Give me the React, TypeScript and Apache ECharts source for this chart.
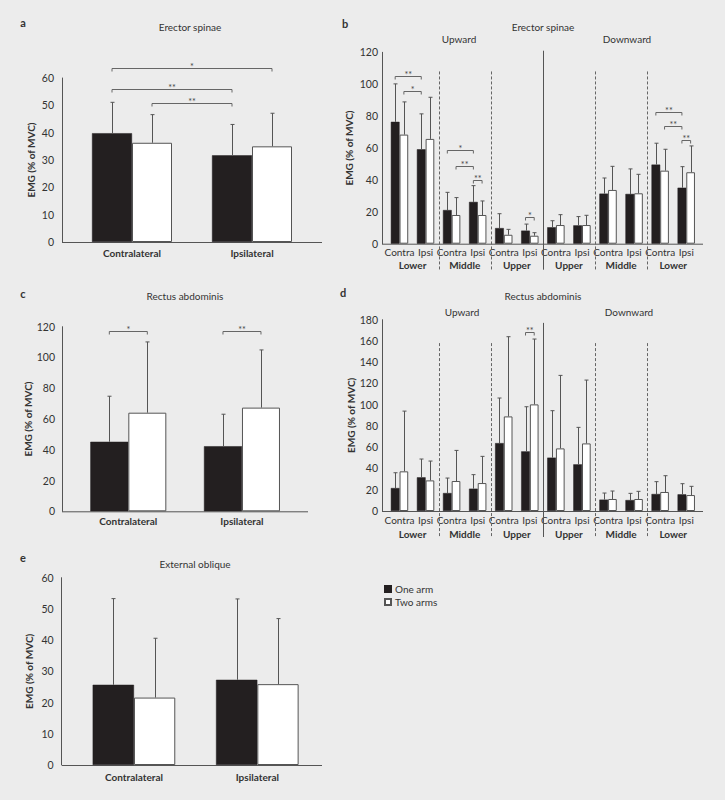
import React, { useEffect, useRef } from 'react';
import * as echarts from 'echarts';

const FONT = 'Lato, "Open Sans", sans-serif';
const TXT = '#333';
const AX = '#555';

// ---- categories ----
const sideCats = ['Contralateral', 'Ipsilateral'];
const sideShort = ['Contra', 'Ipsi', 'Contra', 'Ipsi', 'Contra', 'Ipsi', 'Contra', 'Ipsi', 'Contra', 'Ipsi', 'Contra', 'Ipsi'];
const levelCats = ['Lower', 'Middle', 'Upper', 'Upper', 'Middle', 'Lower'];
const seriesNames = ['One arm', 'Two arms'];

// ---- panel a: Erector spinae ----
const aOneArm = [39.8, 31.7];
const aTwoArms = [36.3, 35.0];
const aOneArmErr = [51.1, 43.0];
const aTwoArmsErr = [46.6, 47.1];
// [fromCat, fromSide, toCat, toSide, y, label]
const aBrackets: [number, number, number, number, number, string][] = [
  [0, -1, 1, 1, 63.5, '*'],
  [0, -1, 1, -1, 56.1, '**'],
  [0, 1, 1, -1, 50.7, '**'],
];

// ---- panel b: Erector spinae, upward / downward ----
const bOneArm = [76.4, 59.2, 21.1, 26.2, 9.8, 8.2, 10.3, 11.5, 31.4, 31.2, 49.6, 35.1];
const bTwoArms = [68.4, 65.7, 18.0, 18.0, 5.6, 5.0, 11.7, 11.7, 33.7, 31.6, 45.8, 44.8];
const bOneArmErr = [100.2, 81.4, 32.2, 36.4, 18.8, 12.3, 14.4, 17.0, 41.2, 46.9, 63.0, 48.3];
const bTwoArmsErr = [88.9, 91.8, 28.9, 26.8, 9.0, 6.9, 18.2, 17.8, 48.5, 43.5, 59.2, 61.3];
const bBrackets: [number, number, number, number, number, string][] = [
  [0, -1, 1, -1, 105, '**'],
  [0, 1, 1, -1, 95.7, '*'],
  [2, -1, 3, -1, 58.7, '*'],
  [2, 1, 3, -1, 48.7, '**'],
  [3, -1, 3, 1, 39.9, '**'],
  [5, -1, 5, 1, 16.5, '*'],
  [10, -1, 11, -1, 82.8, '**'],
  [10, 1, 11, -1, 73.8, '**'],
  [11, -1, 11, 1, 64.8, '**'],
];
// [after category, top value, solid]
const bSeparators: [number, number, number][] = [[1, 108, 0], [3, 108, 0], [5, 121, 1], [7, 108, 0], [9, 108, 0]];

// ---- panel c: Rectus abdominis ----
const cOneArm = [45.2, 42.3];
const cTwoArms = [64.1, 67.4];
const cOneArmErr = [74.8, 63.1];
const cTwoArmsErr = [110.1, 104.9];
const cBrackets: [number, number, number, number, number, string][] = [
  [0, -1, 0, 1, 117.4, '*'],
  [1, -1, 1, 1, 117.4, '**'],
];

// ---- panel d: Rectus abdominis, upward / downward ----
const dOneArm = [21.6, 31.7, 16.9, 21.0, 63.9, 56.1, 50.2, 43.9, 10.7, 10.3, 16.0, 15.7];
const dTwoArms = [37.3, 28.8, 28.2, 26.3, 89.0, 100.3, 58.9, 63.6, 11.3, 11.3, 17.9, 15.0];
const dOneArmErr = [36.0, 48.9, 31.0, 34.2, 106.3, 98.1, 94.4, 78.7, 16.9, 16.6, 27.6, 25.7];
const dTwoArmsErr = [94.0, 47.0, 57.0, 51.4, 164.0, 161.8, 127.6, 123.2, 18.8, 18.5, 33.2, 23.2];
const dBrackets: [number, number, number, number, number, string][] = [
  [5, -1, 5, 1, 168, '**'],
];
const dSeparators: [number, number, number][] = [[1, 158, 0], [3, 158, 0], [5, 177, 1], [7, 158, 0], [9, 158, 0]];

// ---- panel e: External oblique ----
const eOneArm = [25.7, 27.3];
const eTwoArms = [21.6, 25.9];
const eOneArmErr = [53.3, 53.2];
const eTwoArmsErr = [40.6, 46.9];

function barPair(xi: number, yi: number, one: number[], two: number[], bw: number) {
  return [
    {
      name: seriesNames[0], type: 'bar', xAxisIndex: xi, yAxisIndex: yi, data: one,
      barWidth: bw, barGap: '0%', silent: true,
      itemStyle: { color: '#231f20', borderColor: '#231f20', borderWidth: 0.5 },
    },
    {
      name: seriesNames[1], type: 'bar', xAxisIndex: xi, yAxisIndex: yi, data: two,
      barWidth: bw, barGap: '0%', silent: true,
      itemStyle: { color: '#ffffff', borderColor: '#555', borderWidth: 1 },
    },
  ];
}

function errSeries(xi: number, yi: number, means: number[], tops: number[], off: number) {
  return {
    type: 'custom', xAxisIndex: xi, yAxisIndex: yi, silent: true, z: 4, clip: false,
    data: means.map((m, i) => [i, m, tops[i]]),
    encode: { x: 0, y: [1, 2] },
    renderItem: (_p: any, api: any) => {
      const i = api.value(0), m = api.value(1), t = api.value(2);
      const b = api.coord([i, m]);
      const tp = api.coord([i, t]);
      const x = Math.round(b[0] + off) + 0.5;
      return {
        type: 'group',
        children: [
          { type: 'line', shape: { x1: x, y1: b[1], x2: x, y2: tp[1] }, style: { stroke: AX, lineWidth: 1 } },
          { type: 'line', shape: { x1: x - 2, y1: tp[1], x2: x + 2, y2: tp[1] }, style: { stroke: AX, lineWidth: 1 } },
        ],
      };
    },
  };
}

function bracketSeries(xi: number, yi: number, br: [number, number, number, number, number, string][], bw: number, fs: number) {
  return {
    type: 'custom', xAxisIndex: xi, yAxisIndex: yi, silent: true, z: 5, clip: false,
    data: br.map((b) => [b[0], b[1], b[2], b[3], b[4]]),
    encode: { x: 0, y: 4 },
    renderItem: (p: any, api: any) => {
      const f = api.value(0), fsd = api.value(1), t = api.value(2), tsd = api.value(3), y = api.value(4);
      const p1 = api.coord([f, y]);
      const p2 = api.coord([t, y]);
      const x1 = p1[0] + (fsd * bw) / 2;
      const x2 = p2[0] + (tsd * bw) / 2;
      const yy = Math.round(p1[1]) + 0.5;
      const st = { stroke: '#666', lineWidth: 1 };
      return {
        type: 'group',
        children: [
          { type: 'line', shape: { x1, y1: yy, x2, y2: yy }, style: st },
          { type: 'line', shape: { x1, y1: yy, x2: x1, y2: yy + 3 }, style: st },
          { type: 'line', shape: { x1: x2, y1: yy, x2, y2: yy + 3 }, style: st },
          {
            type: 'text', x: (x1 + x2) / 2, y: yy + 2,
            style: { text: br[p.dataIndex][5], fill: '#444', fontSize: fs, fontFamily: FONT, align: 'center', verticalAlign: 'bottom' },
          },
        ],
      };
    },
  };
}

function sepSeries(xi: number, yi: number, seps: [number, number, number][]) {
  return {
    type: 'custom', xAxisIndex: xi, yAxisIndex: yi, silent: true, z: 1, clip: false,
    data: seps.map((s) => [s[0], s[1], s[2]]),
    encode: { x: 0, y: 1 },
    renderItem: (_p: any, api: any) => {
      const c = api.value(0), top = api.value(1), solid = api.value(2);
      const band = api.size([1, 0])[0];
      const base = api.coord([c, 0]);
      const tp = api.coord([c, top]);
      const x = Math.round(base[0] + band / 2) + 0.5;
      return {
        type: 'line',
        shape: { x1: x, y1: tp[1], x2: x, y2: base[1] + 26 },
        style: { stroke: solid ? '#555' : '#666', lineWidth: 1, lineDash: solid ? null : [3, 2] },
      };
    },
  };
}

function catAxis(gi: number, data: string[], margin: number, opts: any = {}) {
  return {
    type: 'category', gridIndex: gi, data, position: 'bottom',
    axisLine: { show: false }, axisTick: { show: false },
    axisLabel: { interval: 0, margin, color: TXT, fontFamily: FONT, fontSize: 10, fontWeight: 'bold', ...(opts.label || {}) },
    ...(opts.axis || {}),
  };
}

function valAxis(gi: number, max: number, interval: number, offset: number, gap: number, margin: number) {
  return {
    type: 'value', gridIndex: gi, min: 0, max, interval, offset,
    axisLine: { show: true, lineStyle: { color: AX, width: 1 } },
    axisTick: { show: false }, splitLine: { show: false },
    axisLabel: { color: TXT, fontFamily: FONT, fontSize: 10.5, margin },
    name: 'EMG (% of MVC)', nameLocation: 'middle', nameRotate: 90, nameGap: gap,
    nameTextStyle: { color: TXT, fontFamily: FONT, fontSize: 10, fontWeight: 'bold' },
  };
}

function txt(x: number, y: number, text: string, size: number, weight = 'normal', align = 'center') {
  return {
    type: 'text', x, y, silent: true,
    style: {
      text, fill: TXT, fontSize: size, fontWeight: weight, fontFamily: FONT,
      align, verticalAlign: 'middle', textAlign: align, textVerticalAlign: 'middle',
    },
  };
}

function hline(x1: number, x2: number, y: number) {
  return { type: 'line', silent: true, shape: { x1, y1: y, x2, y2: y }, style: { stroke: AX, lineWidth: 1 } };
}

export default function App() {
  const ref = useRef<HTMLDivElement>(null);
  useEffect(() => {
    if (!ref.current) return;
    const chart = echarts.init(ref.current, null, { renderer: 'svg' });
    const bwA = 40, bwB = 8.7, bwC = 38, bwE = 41.3;
    chart.setOption({
      animation: false,
      backgroundColor: '#ececec',
      textStyle: { fontFamily: FONT },
      grid: [
        { left: 72, top: 78, width: 240, height: 164 },
        { left: 386.5, top: 52.3, width: 312.8, height: 191.4 },
        { left: 71.5, top: 326.7, width: 227.3, height: 184.6 },
        { left: 386.5, top: 319.7, width: 312.8, height: 191.3 },
        { left: 72.3, top: 577.7, width: 246.7, height: 187.3 },
      ],
      xAxis: [
        catAxis(0, sideCats, 6),
        catAxis(1, sideShort, 3, { label: { fontWeight: 'normal', fontSize: 10 } }),
        catAxis(1, levelCats, 3, { axis: { offset: 13 } }),
        catAxis(2, sideCats, 5),
        catAxis(3, sideShort, 4, { label: { fontWeight: 'normal', fontSize: 10 } }),
        catAxis(3, levelCats, 3, { axis: { offset: 15 } }),
        catAxis(4, sideCats, 7),
      ],
      yAxis: [
        valAxis(0, 60, 10, 10, 26, 8),
        valAxis(1, 120, 20, 4.5, 28, 4),
        valAxis(2, 120, 20, 9.5, 28, 7),
        valAxis(3, 180, 20, 4.5, 26, 4),
        valAxis(4, 60, 10, 10.6, 28, 8),
      ],
      legend: {
        data: seriesNames, orient: 'vertical', left: 379, top: 578,
        itemWidth: 6, itemHeight: 6, itemGap: 1, icon: 'rect',
        textStyle: { color: TXT, fontFamily: FONT, fontSize: 10, lineHeight: 12, padding: [0, 0, 0, -1] },
        selectedMode: false,
      },
      graphic: [
        txt(23, 22, 'a', 11, 'bold'),
        txt(345, 23, 'b', 11, 'bold'),
        txt(23, 293, 'c', 11, 'bold'),
        txt(343, 292, 'd', 11, 'bold'),
        txt(23, 557, 'e', 11, 'bold'),
        txt(190, 27, 'Erector spinae', 10),
        txt(543, 27, 'Erector spinae', 10),
        txt(459, 39, 'Upward', 10),
        txt(627, 39, 'Downward', 10),
        txt(185, 296, 'Rectus abdominis', 10),
        txt(543, 296, 'Rectus abdominis', 10),
        txt(462, 312, 'Upward', 10),
        txt(629, 312, 'Downward', 10),
        txt(195, 564, 'External oblique', 10),
        hline(62, 322, 242.5),
        hline(382, 703, 244.2),
        hline(62, 308, 511.8),
        hline(382, 703, 511.5),
        hline(62, 322, 765.5),
      ],
      series: [
        ...barPair(0, 0, aOneArm, aTwoArms, bwA),
        errSeries(0, 0, aOneArm, aOneArmErr, -bwA / 2),
        errSeries(0, 0, aTwoArms, aTwoArmsErr, bwA / 2),
        bracketSeries(0, 0, aBrackets, bwA, 9),

        ...barPair(1, 1, bOneArm, bTwoArms, bwB),
        errSeries(1, 1, bOneArm, bOneArmErr, -bwB / 2),
        errSeries(1, 1, bTwoArms, bTwoArmsErr, bwB / 2),
        bracketSeries(1, 1, bBrackets, bwB, 9),
        sepSeries(1, 1, bSeparators),

        ...barPair(3, 2, cOneArm, cTwoArms, bwC),
        errSeries(3, 2, cOneArm, cOneArmErr, -bwC / 2),
        errSeries(3, 2, cTwoArms, cTwoArmsErr, bwC / 2),
        bracketSeries(3, 2, cBrackets, bwC, 9),

        ...barPair(4, 3, dOneArm, dTwoArms, bwB),
        errSeries(4, 3, dOneArm, dOneArmErr, -bwB / 2),
        errSeries(4, 3, dTwoArms, dTwoArmsErr, bwB / 2),
        bracketSeries(4, 3, dBrackets, bwB, 9),
        sepSeries(4, 3, dSeparators),

        ...barPair(6, 4, eOneArm, eTwoArms, bwE),
        errSeries(6, 4, eOneArm, eOneArmErr, -bwE / 2),
        errSeries(6, 4, eTwoArms, eTwoArmsErr, bwE / 2),
      ],
    });
    return () => chart.dispose();
  }, []);
  return <div ref={ref} style={{ position: 'absolute', left: 0, top: 0, width: 725, height: 800 }} />;
}
